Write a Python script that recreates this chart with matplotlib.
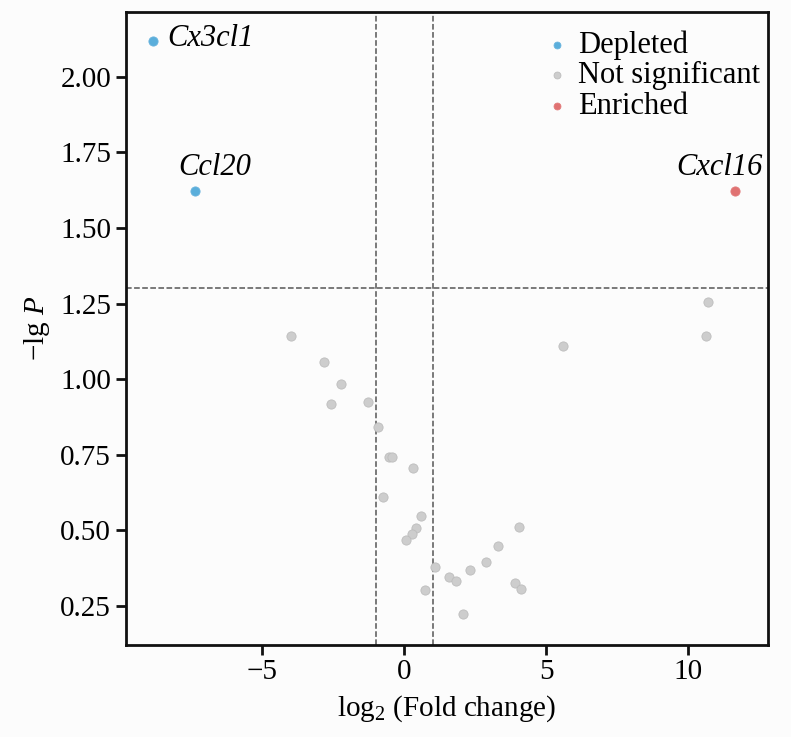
import matplotlib
matplotlib.use('Agg')
import matplotlib.pyplot as plt

plt.rcParams['font.family'] = ['Liberation Serif', 'DejaVu Serif']
plt.rcParams['mathtext.fontset'] = 'custom'
plt.rcParams['mathtext.rm'] = 'Liberation Serif'
plt.rcParams['mathtext.it'] = 'Liberation Serif:italic'

# 数据
depleted_x = [-8.84, -7.36]
depleted_y = [2.119, 1.623]
depleted_genes = ['Cx3cl1', 'Ccl20']

enriched_x = [11.65]
enriched_y = [1.623]
enriched_genes = ['Cxcl16']

ns_x = [-3.99, -2.81, -2.23, -2.59, -1.26, -0.94, -0.55, -0.42, 0.32, -0.76,
        0.60, 0.41, 0.26, 0.05, 4.03, 3.31, 2.86, 2.30, 1.07, 1.56,
        1.81, 3.89, 4.11, 0.74, 2.08, 5.57, 10.67, 10.63]
ns_y = [1.143, 1.057, 0.984, 0.917, 0.923, 0.842, 0.741, 0.744, 0.707, 0.610,
        0.547, 0.509, 0.489, 0.467, 0.510, 0.448, 0.395, 0.370, 0.378, 0.347,
        0.332, 0.325, 0.305, 0.304, 0.222, 1.108, 1.256, 1.143]

p_cut = 1.30
fc_cut = 1.0

fig = plt.figure(figsize=(7.91, 7.37), dpi=100)
fig.patch.set_facecolor('#fcfcfc')
ax = fig.add_axes([0.159, 0.125, 0.812, 0.859])
ax.set_facecolor('#fcfcfc')

ax.scatter(depleted_x, depleted_y, s=44, color='#5aaedb', edgecolors='#6ab4de',
           linewidths=0.6, label='Depleted', zorder=3)
ax.scatter(ns_x, ns_y, s=44, color='#cdcdcd', edgecolors='#bdbdbd',
           linewidths=0.6, label='Not significant', zorder=3)
ax.scatter(enriched_x, enriched_y, s=44, color='#e07272', edgecolors='#e27a7a',
           linewidths=0.6, label='Enriched', zorder=3)

ax.axhline(p_cut, color='#555555', linestyle='--', linewidth=1.1, zorder=1)
ax.axvline(-fc_cut, color='#555555', linestyle='--', linewidth=1.1, zorder=1)
ax.axvline(fc_cut, color='#555555', linestyle='--', linewidth=1.1, zorder=1)

# 基因标注
ax.annotate(depleted_genes[0], (depleted_x[0], depleted_y[0]), xytext=(10, 2),
            textcoords='offset points', ha='left', va='center',
            fontsize=22, style='italic')
ax.annotate(depleted_genes[1], (depleted_x[1], depleted_y[1]), xytext=(-12, 6),
            textcoords='offset points', ha='left', va='bottom',
            fontsize=22, style='italic')
ax.annotate(enriched_genes[0], (enriched_x[0], enriched_y[0]), xytext=(20, 6),
            textcoords='offset points', ha='right', va='bottom',
            fontsize=22, style='italic')

ax.set_xlim(-9.8, 12.8)
ax.set_ylim(0.121, 2.215)
ax.set_xticks([-5, 0, 5, 10])
ax.set_xticklabels(['\u22125', '0', '5', '10'])
ax.set_yticks([0.25, 0.5, 0.75, 1.0, 1.25, 1.5, 1.75, 2.0])
ax.set_yticklabels(['0.25', '0.50', '0.75', '1.00', '1.25', '1.50', '1.75', '2.00'])
ax.tick_params(labelsize=21, width=2, length=7, color='#111111')

for sp in ax.spines.values():
    sp.set_linewidth(2)
    sp.set_color('#111111')

ax.set_xlabel(r'log$_2$ (Fold change)', fontsize=21, labelpad=6)
ax.set_ylabel('\u2212lg $\\it{P}$', fontsize=21, labelpad=6)

ax.legend(loc='upper right', bbox_to_anchor=(1.016, 1.0), frameon=False,
          fontsize=22, markerscale=0.75, handletextpad=0.1, labelspacing=0.05,
          borderaxespad=0.2, handlelength=1.2)

fig.savefig('out.png', dpi=100, facecolor=fig.get_facecolor())
